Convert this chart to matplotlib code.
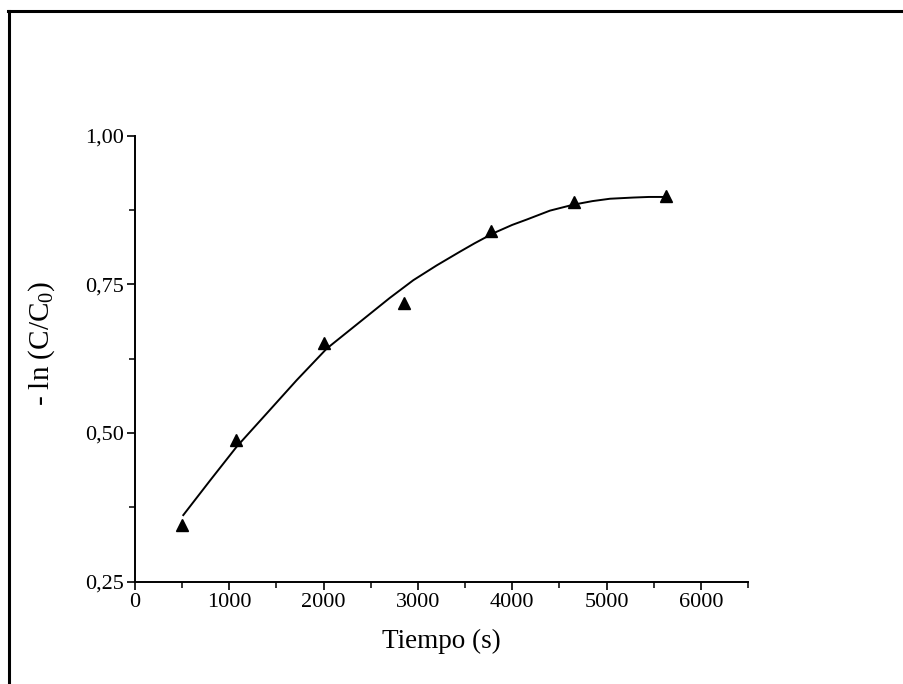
import matplotlib
matplotlib.use("Agg")
import matplotlib.pyplot as plt
from matplotlib.lines import Line2D
from matplotlib.ticker import FuncFormatter, MultipleLocator

plt.rcParams['font.family'] = ['Liberation Serif', 'DejaVu Serif']
plt.rcParams['mathtext.fontset'] = 'custom'
plt.rcParams['mathtext.rm'] = 'Liberation Serif'
plt.rcParams['mathtext.it'] = 'Liberation Serif:italic'

# measured points
time_s = [500, 1070, 2000, 2850, 3780, 4650, 5630]
neg_ln_ratio = [0.345, 0.488, 0.652, 0.719, 0.839, 0.888, 0.899]

# fitted curve
curve_t = [512, 800, 1078, 1397, 1715, 2033, 2457, 2700, 2951, 3200, 3446, 3600, 3800,
           4000, 4154, 4400, 4648, 4850, 5037, 5284, 5450, 5628]
curve_y = [0.362, 0.421, 0.477, 0.533, 0.589, 0.642, 0.696, 0.727, 0.757, 0.782, 0.805,
           0.819, 0.836, 0.850, 0.859, 0.874, 0.884, 0.890, 0.894, 0.896, 0.897, 0.897]

x_ticks = [0, 1000, 2000, 3000, 4000, 5000, 6000]
y_ticks = [0.25, 0.50, 0.75, 1.00]

fig = plt.figure(figsize=(9.04, 6.84), dpi=100)
ax = fig.add_axes([135/904, 102.3/684, 613/904, 446/684])

ax.plot(curve_t, curve_y, color='black', lw=1.4)
ax.plot(time_s, neg_ln_ratio, linestyle='none', marker='^', color='black', markersize=9)

ax.set_xlim(0, 6500)
ax.set_ylim(0.25, 1.0)
ax.set_xticks(x_ticks)
ax.set_yticks(y_ticks)
ax.xaxis.set_minor_locator(MultipleLocator(500))
ax.yaxis.set_minor_locator(MultipleLocator(0.125))
ax.yaxis.set_major_formatter(FuncFormatter(lambda v, p: f"{v:.2f}".replace('.', ',')))

for s in ['top', 'right']:
    ax.spines[s].set_visible(False)
for s in ['left', 'bottom']:
    ax.spines[s].set_linewidth(1.4)

ax.tick_params(which='major', direction='out', length=6, width=1.2, labelsize=16, pad=2)
ax.tick_params(which='minor', direction='out', length=4, width=1.1)

ax.set_xlabel('Tiempo (s)', fontsize=19.5, labelpad=12)
fig.text(42/904, 1 - 343/684, r'- ln (C/C$_{\mathrm{0}}$)', rotation=90,
         ha='center', va='center', fontsize=21)

# page frame lines
fig.add_artist(Line2D([8/904, 1.0], [1 - 11/684, 1 - 11/684], transform=fig.transFigure,
                      color='black', lw=2.2))
fig.add_artist(Line2D([9/904, 9/904], [0, 1 - 11/684], transform=fig.transFigure,
                      color='black', lw=2.2))

fig.savefig('out.png', dpi=100)
